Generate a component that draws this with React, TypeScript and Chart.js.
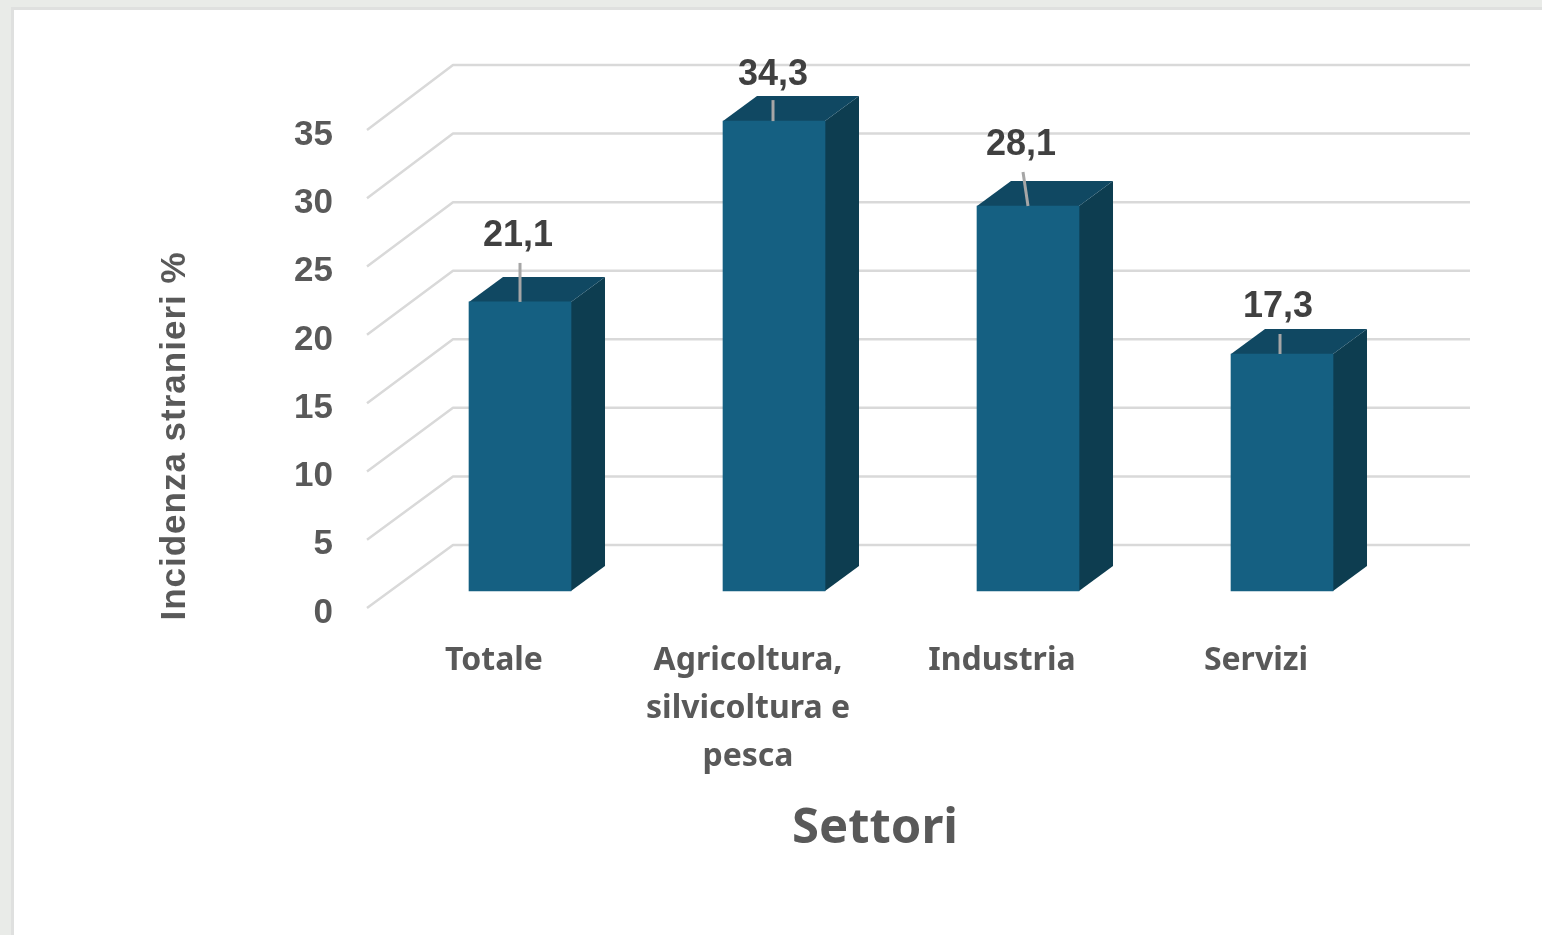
import React, { useEffect, useRef } from "react";
import { Chart, registerables } from "chart.js";

Chart.register(...registerables);

const categories: (string | string[])[] = ["Totale", ["Agricoltura,", "silvicoltura e", "pesca"], "Industria", "Servizi"];
const incidence = [21.1, 34.3, 28.1, 17.3];
const valueLabels = ["21,1", "34,3", "28,1", "17,3"];
const labelLift = [66, 46, 61, 47];
const labelShift = [-2, -1, -7, -4];
const leaderFoot = [0, -1, 0, -2];
const leaderTop = [39, 21, 34, 20];
const leaderLean = [0, 0, -5, 0];
const yAxisTitle = "Incidenza stranieri %";
const xAxisTitle = "Settori";

const LEFT = 367, RIGHT = 1383, TOP = 135, BOTTOM = 613;
const LABEL_DROP = 5, BACK_X = 86, WALL_RIGHT = 1470, DEPTH_X = 34, DEPTH_Y = 25;
const FRONT = "#156082", ROOF = "#104862", SIDE = "#0d3d50", GRID = "#d9d9d9";
const SANS = '"Liberation Sans", Arial, sans-serif';

const faces = {
  id: "faces",
  beforeDatasetsDraw(chart: any) {
    const { ctx, scales } = chart;
    const y = scales.y;
    ctx.save();
    ctx.strokeStyle = GRID;
    ctx.lineWidth = 2.5;
    ctx.lineJoin = "round";
    for (const t of y.ticks) {
      const py = y.getPixelForValue(t.value) - LABEL_DROP;
      const backY = py - 63 - (2 * t.value) / 35;
      ctx.beginPath();
      ctx.moveTo(LEFT, py);
      ctx.lineTo(LEFT + BACK_X, backY);
      ctx.lineTo(WALL_RIGHT, backY);
      ctx.stroke();
    }
    const bars = chart.getDatasetMeta(0).data;
    for (const b of bars) {
      const l = b.x - b.width / 2, r = b.x + b.width / 2;
      ctx.fillStyle = SIDE;
      ctx.beginPath();
      ctx.moveTo(r, b.y);
      ctx.lineTo(r + DEPTH_X, b.y - DEPTH_Y);
      ctx.lineTo(r + DEPTH_X, b.base - DEPTH_Y);
      ctx.lineTo(r, b.base);
      ctx.closePath();
      ctx.fill();
      ctx.fillStyle = ROOF;
      ctx.beginPath();
      ctx.moveTo(l, b.y);
      ctx.lineTo(l + DEPTH_X, b.y - DEPTH_Y);
      ctx.lineTo(r + DEPTH_X, b.y - DEPTH_Y);
      ctx.lineTo(r, b.y);
      ctx.closePath();
      ctx.fill();
    }
    ctx.restore();
  },
  afterDatasetsDraw(chart: any) {
    const { ctx } = chart;
    const bars = chart.getDatasetMeta(0).data;
    ctx.save();
    bars.forEach((b: any, i: number) => {
      ctx.strokeStyle = "#a6a6a6";
      ctx.lineWidth = 3;
      ctx.beginPath();
      ctx.moveTo(b.x + leaderFoot[i], b.y);
      ctx.lineTo(b.x + leaderFoot[i] + leaderLean[i], b.y - leaderTop[i]);
      ctx.stroke();
      ctx.fillStyle = "#404040";
      ctx.font = `bold 36px ${SANS}`;
      ctx.textAlign = "center";
      ctx.textBaseline = "middle";
      ctx.fillText(valueLabels[i], b.x + labelShift[i], b.y - labelLift[i]);
    });
    ctx.fillStyle = "#595959";
    ctx.font = `bold 35px ${SANS}`;
    (ctx as any).letterSpacing = "1px";
    ctx.translate(175, 436);
    ctx.rotate(-Math.PI / 2);
    ctx.textAlign = "center";
    ctx.textBaseline = "middle";
    ctx.fillText(yAxisTitle, 0, 0);
    ctx.restore();
  },
};

export default function App() {
  const ref = useRef<HTMLCanvasElement>(null);
  useEffect(() => {
    const chart = new Chart(ref.current!, {
      type: "bar",
      plugins: [faces],
      data: {
        labels: categories as any,
        datasets: [
          {
            label: "Incidenza stranieri %",
            data: incidence.map((v, i) => ({ x: i, y: v })) as any,
            backgroundColor: FRONT,
            borderWidth: 0,
            barThickness: 102,
            clip: false as any,
            xAxisID: "xBar",
            yAxisID: "yBar",
          },
        ],
      },
      options: {
        animation: false,
        responsive: false,
        layout: { padding: { top: TOP, right: 1542 - RIGHT, left: 0, bottom: 0 } },
        plugins: { legend: { display: false }, tooltip: { enabled: false } },
        scales: {
          x: {
            type: "category",
            position: "bottom",
            grid: { display: false, drawTicks: false },
            border: { display: false },
            ticks: {
              color: "#595959",
              padding: 24,
              maxRotation: 0,
              autoSkip: false,
              font: { family: '"Noto Sans", sans-serif', size: 32, weight: "bold", lineHeight: 1.5 },
            },
            title: {
              display: true,
              text: xAxisTitle,
              color: "#595959",
              padding: { top: 10, bottom: 77 },
              font: { family: '"Noto Sans", sans-serif', size: 49, weight: "bold" },
            },
            afterFit(s: any) { s.height = 935 - BOTTOM; },
          },
          xBar: { type: "linear", display: false, offset: false, min: -0.6024, max: 3.3976 },
          y: {
            type: "linear",
            position: "left",
            min: 0,
            max: 35,
            grid: { display: false, drawTicks: false },
            border: { display: false },
            ticks: {
              stepSize: 5,
              color: "#595959",
              padding: 34,
              font: { family: SANS, size: 35, weight: "bold" },
            },
            afterFit(s: any) { s.width = LEFT; },
          },
          yBar: { type: "linear", display: false, min: -1.606, max: 33.285 },
        },
      } as any,
    });
    return () => chart.destroy();
  }, []);
  return (
    <div style={{ position: "fixed", left: 0, top: 0, width: 1542, height: 935, overflow: "hidden", background: "#e9ebe8" }}>
      <div style={{ position: "absolute", left: 11, top: 7, width: 1531, height: 928, background: "#ffffff", borderLeft: "3px solid #dfe0df", borderTop: "3px solid #dfe0df", boxSizing: "border-box" }} />
      <canvas ref={ref} width={1542} height={935} style={{ position: "absolute", left: 0, top: 0, width: 1542, height: 935 }} />
    </div>
  );
}
